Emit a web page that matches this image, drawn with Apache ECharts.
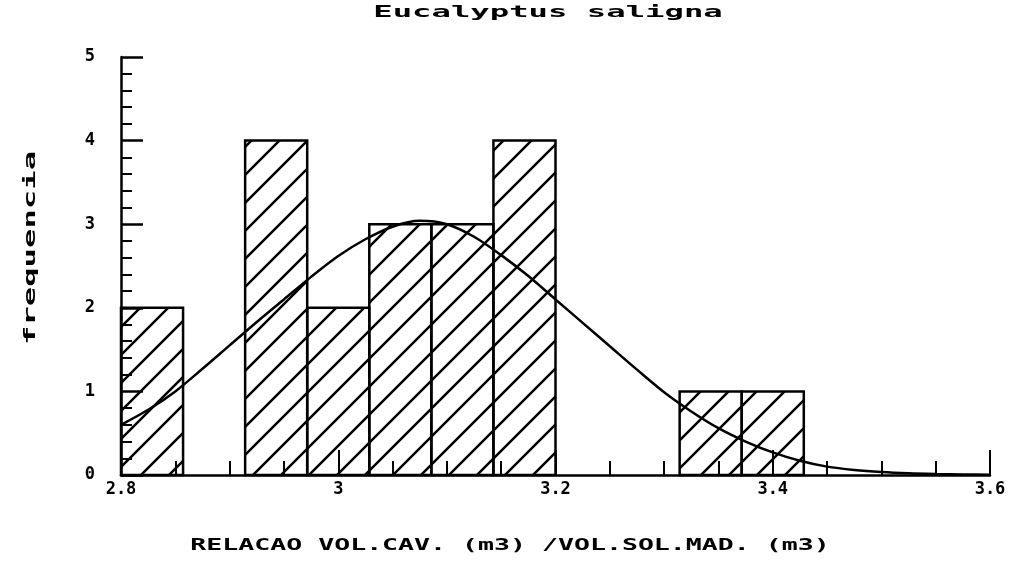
<!DOCTYPE html>
<html>
<head>
<meta charset="utf-8">
<script src="https://cdn.jsdelivr.net/npm/echarts@6/dist/echarts.min.js"></script>
<style>
  html, body { margin: 0; padding: 0; background: #fff; }
  #main { width: 1022px; height: 561px; }
</style>
</head>
<body>
<div id="main"></div>
<script>
// histogram: 14 classes from 2.8 to 3.6
const binStart = 2.8;
const binWidth = 0.8 / 14;
const counts = [2, 0, 4, 2, 3, 3, 4, 0, 0, 1, 1, 0, 0, 0];

// fitted curve
const curveX = [2.8, 2.825, 2.85, 2.875, 2.9, 2.925, 2.95, 2.975, 3.0, 3.025, 3.05, 3.075, 3.1, 3.125, 3.15, 3.175,
  3.2, 3.225, 3.25, 3.275, 3.3, 3.325, 3.35, 3.375, 3.4, 3.425, 3.45, 3.475, 3.5, 3.525, 3.55, 3.575, 3.6];
const curveY = [0.6, 0.78, 1.0, 1.27, 1.55, 1.83, 2.1, 2.37, 2.62, 2.82, 2.97, 3.04, 3.0, 2.85, 2.63, 2.38,
  2.1, 1.82, 1.54, 1.26, 0.99, 0.76, 0.56, 0.4, 0.27, 0.17, 0.1, 0.06, 0.035, 0.02, 0.012, 0.007, 0.004];

const yTicks = ['0', '1', '2', '3', '4', '5'];

const FONT = '"DejaVu Sans Mono", monospace';

// diagonal hatch tile
const hatch = document.createElement('canvas');
const s = 28;
hatch.width = s; hatch.height = s;
const g = hatch.getContext('2d');
g.strokeStyle = '#000';
g.lineWidth = 2.5;
g.beginPath();
g.moveTo(0, s); g.lineTo(s, 0);
g.moveTo(-2, 2); g.lineTo(2, -2);
g.moveTo(s - 2, s + 2); g.lineTo(s + 2, s - 2);
g.stroke();

const bars = counts.map((c, i) => [binStart + i * binWidth, binStart + (i + 1) * binWidth, c]);
const curve = curveX.map((x, i) => [x, curveY[i]]);

const chart = echarts.init(document.getElementById('main'));
chart.setOption({
  animation: false,
  backgroundColor: '#fff',
  grid: { left: 121, right: 32, top: 57, bottom: 86, outerBoundsMode: 'none' },
  xAxis: {
    type: 'value', min: 2.8, max: 3.6, interval: 0.2,
    axisLine: { lineStyle: { color: '#000', width: 2.5 } },
    axisTick: { inside: true, length: 25, lineStyle: { color: '#000', width: 2 } },
    minorTick: { show: true, splitNumber: 4, length: 14, lineStyle: { color: '#000', width: 2 } },
    splitLine: { show: false },
    axisLabel: { color: '#000', fontFamily: FONT, fontWeight: 'bold', fontSize: 17, margin: 6 }
  },
  yAxis: {
    type: 'value', min: 0, max: 5, interval: 1,
    axisLine: { show: true, lineStyle: { color: '#000', width: 2.5 } },
    axisTick: { show: true, inside: true, length: 22, lineStyle: { color: '#000', width: 2.5 } },
    minorTick: { show: true, splitNumber: 5, length: 11, lineStyle: { color: '#000', width: 2 } },
    splitLine: { show: false },
    axisLabel: {
      color: '#000', fontFamily: FONT, fontWeight: 'bold', fontSize: 17, margin: 26,
      formatter: v => yTicks[Math.round(v)]
    }
  },
  series: [
    {
      type: 'custom',
      data: bars,
      renderItem: (params, api) => {
        const h = api.value(2);
        if (!h) return null;
        const p0 = api.coord([api.value(0), h]);
        const p1 = api.coord([api.value(1), 0]);
        return {
          type: 'rect',
          shape: { x: p0[0], y: p0[1], width: p1[0] - p0[0], height: p1[1] - p0[1] },
          style: { fill: { type: 'pattern', image: hatch, repeat: 'repeat' }, stroke: '#000', lineWidth: 2.5 }
        };
      },
      z: 1
    },
    {
      type: 'line',
      data: curve,
      smooth: 0.3,
      showSymbol: false,
      lineStyle: { color: '#000', width: 2.5 },
      z: 3
    }
  ],
  graphic: [
    {
      type: 'text', x: 548, y: 13, scaleX: 2.15, z: 10,
      style: { text: 'Eucalyptus saligna', font: 'bold 15px ' + FONT, fill: '#000', align: 'center', verticalAlign: 'middle' }
    },
    {
      type: 'text', x: 510, y: 546, scaleX: 1.77, z: 10,
      style: { text: 'RELACAO VOL.CAV. (m3) /VOL.SOL.MAD. (m3)', font: 'bold 15px ' + FONT, fill: '#000', align: 'center', verticalAlign: 'middle' }
    },
    {
      type: 'text', x: 31, y: 248, rotation: Math.PI / 2, scaleX: 2.15, z: 10,
      style: { text: 'frequencia', font: 'bold 15px ' + FONT, fill: '#000', align: 'center', verticalAlign: 'middle' }
    }
  ]
});
</script>
</body>
</html>
